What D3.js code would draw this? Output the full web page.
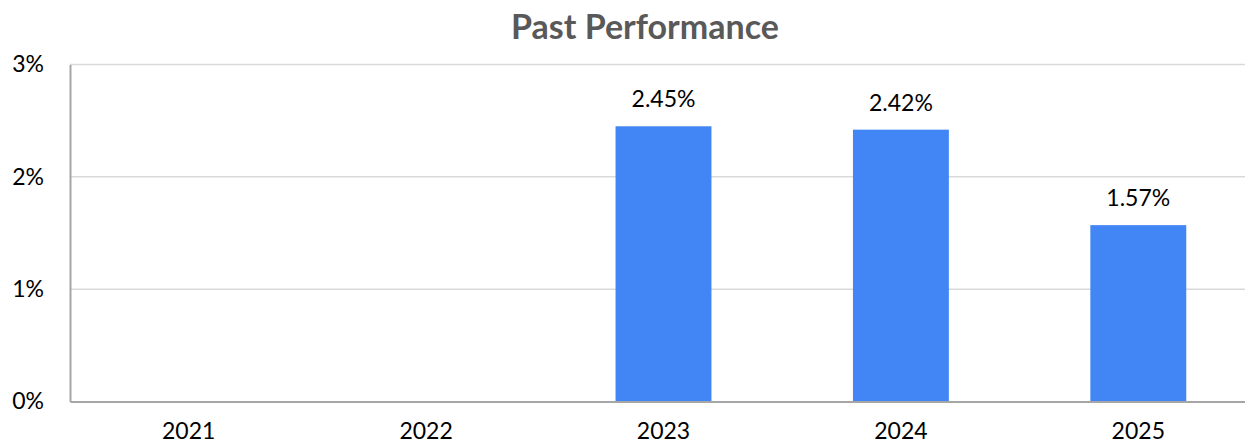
<!DOCTYPE html>
<html>
<head>
<meta charset="utf-8">
<script src="https://cdn.jsdelivr.net/npm/d3@7"></script>
<style>
  body { margin: 0; background: #fff; }
  svg { display: block; font-family: Lato, "Open Sans", sans-serif; }
</style>
</head>
<body>
<div id="chart"></div>
<script>
const years = ["2021", "2022", "2023", "2024", "2025"]
const returns = [null, null, 2.45, 2.42, 1.57]
const yTicks = [0, 1, 2, 3]

const config = {
  "w": 1245,
  "h": 445,
  "left": 70,
  "right": 1257,
  "top": 64.5,
  "bottom": 401.5,
}

const svg = d3.select("#chart")
              .append("svg")
              .attr("width", config.w)
              .attr("height", config.h)

const x_scale = d3.scaleBand()
                  .domain(years)
                  .range([config.left, config.right])
                  .paddingInner(0.596)
                  .paddingOuter(0.298)

const y_scale = d3.scaleLinear()
                  .domain([0, 3])
                  .range([config.bottom, config.top])

// gridlines
svg.append("g")
   .selectAll("line")
   .data(yTicks.filter(d => d > 0))
   .enter()
   .append("line")
   .attr("x1", config.left)
   .attr("x2", config.right)
   .attr("y1", d => y_scale(d))
   .attr("y2", d => y_scale(d))
   .attr("stroke", "#d9d9d9")
   .attr("stroke-width", 1.5)

const points = years.map((y, i) => ({ year: y, value: returns[i] })).filter(d => d.value !== null)

// bars
svg.selectAll("rect")
   .data(points)
   .enter()
   .append("rect")
   .attr("x", d => x_scale(d.year))
   .attr("width", x_scale.bandwidth())
   .attr("y", d => y_scale(d.value))
   .attr("height", d => config.bottom - y_scale(d.value))
   .attr("fill", "#4285f4")

// value labels
svg.append("g")
   .selectAll("text")
   .data(points)
   .enter()
   .append("text")
   .attr("x", d => x_scale(d.year) + x_scale.bandwidth() / 2)
   .attr("y", d => y_scale(d.value) - 19)
   .attr("text-anchor", "middle")
   .attr("font-size", 23)
   .attr("fill", "#000")
   .text(d => d.value.toFixed(2) + "%")

// y axis
const yAxis = d3.axisLeft(y_scale)
                .tickValues(yTicks)
                .tickSize(0)
                .tickPadding(26)
                .tickFormat(d => d + "%")

const gy = svg.append("g")
              .attr("transform", "translate(" + config.left + ",0)")
              .call(yAxis)
gy.select(".domain").attr("stroke", "#a6a6a6").attr("stroke-width", 2)
gy.selectAll("text").attr("font-size", 23).attr("fill", "#000").attr("font-family", "Lato, sans-serif")

// x axis
const xAxis = d3.axisBottom(x_scale).tickSize(0).tickPadding(21)
const gx = svg.append("g")
              .attr("transform", "translate(0," + config.bottom + ")")
              .call(xAxis)
gx.select(".domain").attr("stroke", "#a6a6a6").attr("stroke-width", 2)
gx.selectAll("text").attr("font-size", 23).attr("fill", "#000").attr("font-family", "Lato, sans-serif")

// title
svg.append("text")
   .attr("x", 645)
   .attr("y", 39)
   .attr("text-anchor", "middle")
   .attr("font-size", 34)
   .attr("font-weight", "bold")
   .attr("fill", "#595959")
   .text("Past Performance")
</script>
</body>
</html>
